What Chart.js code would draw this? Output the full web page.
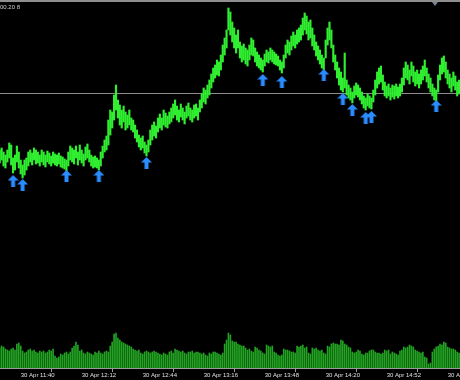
<!DOCTYPE html>
<html>
<head>
<meta charset="utf-8">
<script src="https://cdn.jsdelivr.net/npm/chart.js@4.4.1/dist/chart.umd.min.js"></script>
<style>
    html, body { margin: 0; padding: 0; background: #000; }
    #wrap { width: 460px; height: 380px; }
</style>
</head>
<body>
<div id="wrap"><canvas id="priceChart" width="460" height="380"></canvas></div>
<script>
// 1 minute bars, bar 0 = 30 Apr 11:29
const barHighs = [
    50, 52, 48, 45, 50, 57, 55, 42, 45, 54,
    48, 40, 35, 40, 42, 48, 50, 47, 52, 50,
    48, 45, 50, 48, 45, 49, 47, 44, 48, 46,
    45, 47, 44, 43, 41, 40, 48, 54, 52, 50,
    54, 48, 55, 50, 46, 53, 56, 50, 45, 43,
    44, 42, 40, 48, 54, 60, 64, 80, 90, 88,
    105, 115, 100, 95, 90, 94, 88, 85, 90, 82,
    80, 75, 70, 65, 62, 64, 58, 55, 60, 70,
    75, 78, 74, 82, 86, 82, 90, 87, 84, 88,
    92, 96, 100, 94, 90, 96, 92, 88, 94, 97,
    92, 90, 95, 96, 92, 100, 106, 112, 110, 115,
    120, 126, 132, 135, 140, 138, 145, 155, 162, 170,
    192, 188, 178, 172, 165, 170, 158, 154, 156, 152,
    150, 155, 162, 160, 152, 148, 145, 142, 140, 146,
    150, 148, 152, 150, 148, 146, 144, 140, 138, 145,
    155, 160, 158, 164, 168, 165, 170, 172, 175, 182,
    187, 184, 178, 180, 172, 165, 158, 154, 150, 145,
    142, 160, 172, 178, 170, 155, 145, 138, 132, 128,
    122, 147, 120, 115, 112, 108, 114, 117, 115, 112,
    108, 104, 102, 106, 104, 102, 110, 120, 128, 132,
    134, 125, 118, 114, 116, 112, 115, 114, 116, 113,
    116, 122, 132, 138, 135, 130, 138, 134, 128, 130,
    126, 130, 134, 140, 132, 126, 122, 116, 112, 110,
    125, 135, 142, 144, 138, 130, 126, 122, 128, 124,
    118, 120
];
const barLows = [
    37, 40, 34, 32, 38, 42, 35, 27, 30, 38,
    32, 26, 22, 25, 30, 34, 38, 35, 40, 36,
    37, 34, 38, 35, 33, 38, 36, 34, 37, 35,
    34, 36, 33, 32, 31, 29, 34, 40, 38, 36,
    42, 35, 40, 37, 34, 40, 42, 38, 34, 32,
    33, 32, 30, 34, 42, 48, 50, 55, 65, 72,
    80, 90, 82, 75, 72, 78, 70, 72, 75, 70,
    68, 62, 58, 53, 50, 52, 47, 44, 48, 55,
    60, 64, 62, 68, 72, 70, 75, 73, 72, 76,
    78, 82, 85, 80, 78, 83, 80, 76, 82, 84,
    80, 78, 82, 84, 80, 88, 92, 98, 96, 102,
    105, 112, 118, 122, 125, 124, 130, 138, 145, 152,
    170, 165, 158, 152, 147, 152, 142, 138, 140, 136,
    134, 140, 145, 144, 138, 134, 132, 130, 128, 134,
    138, 137, 140, 138, 136, 135, 134, 130, 127, 132,
    142, 147, 145, 150, 154, 152, 156, 158, 160, 165,
    170, 166, 160, 162, 154, 150, 144, 140, 136, 132,
    130, 142, 155, 160, 152, 138, 130, 122, 115, 110,
    108, 112, 105, 102, 100, 97, 102, 105, 103, 100,
    96, 92, 90, 94, 92, 91, 98, 105, 112, 116,
    118, 110, 104, 102, 104, 100, 103, 101, 104, 102,
    104, 108, 115, 122, 120, 116, 124, 118, 114, 116,
    112, 116, 120, 124, 118, 112, 108, 104, 100, 99,
    108, 120, 126, 128, 122, 116, 112, 108, 114, 110,
    104, 106
];
const tickVolumes = [
    20, 22, 21, 19, 18, 17, 19, 20, 18, 24,
    25, 22, 17, 15, 16, 18, 19, 17, 18, 16,
    15, 17, 16, 17, 15, 16, 18, 17, 19, 12,
    10, 11, 14, 13, 15, 16, 14, 16, 20, 22,
    26, 23, 17, 18, 15, 14, 16, 15, 14, 13,
    16, 15, 17, 15, 14, 16, 17, 16, 22, 26,
    34, 35, 30, 28, 26, 25, 24, 23, 22, 21,
    19, 18, 17, 18, 15, 14, 16, 17, 16, 15,
    16, 17, 16, 15, 14, 13, 15, 14, 13, 16,
    17, 15, 19, 18, 17, 16, 17, 15, 14, 16,
    16, 17, 15, 16, 16, 15, 14, 15, 13, 12,
    15, 14, 16, 16, 15, 14, 13, 15, 24, 28,
    35, 33, 27, 26, 26, 24, 23, 22, 22, 20,
    18, 19, 17, 16, 21, 20, 18, 17, 15, 14,
    23, 22, 21, 22, 16, 15, 13, 12, 13, 19,
    18, 18, 17, 16, 16, 15, 22, 21, 22, 23,
    20, 21, 15, 14, 20, 19, 20, 18, 17, 18,
    15, 14, 22, 21, 24, 25, 24, 24, 23, 28,
    27, 24, 23, 21, 20, 16, 15, 16, 18, 17,
    14, 13, 15, 15, 17, 18, 18, 16, 15, 15,
    14, 15, 18, 17, 18, 14, 16, 15, 14, 13,
    17, 18, 21, 20, 21, 23, 22, 21, 18, 17,
    16, 15, 16, 11, 10, 4, 5, 16, 19, 21,
    22, 24, 23, 26, 25, 21, 20, 19, 19, 18,
    16, 15
];

// blue "buy" arrows under the lows
const arrowBars = [7, 12, 35, 52, 77, 138, 148, 170, 180, 185, 192, 195, 229];
const arrowPrices = [19, 15, 24, 24, 37, 120, 118, 125, 101, 90, 82, 83, 94];

const bidPrice = 107;
const tickBars = [11, 43, 75, 107, 139, 171, 203, 235];
const tickLabels = ['30 Apr 11:40', '30 Apr 12:12', '30 Apr 12:44', '30 Apr 13:16',
    '30 Apr 13:48', '30 Apr 14:20', '30 Apr 14:52', '30 Apr 15:24'];

// arrow icon
const arrowImg = document.createElement('canvas');
arrowImg.width = 11;
arrowImg.height = 12;
const a = arrowImg.getContext('2d');
a.fillStyle = '#2a8cff';
a.beginPath();
a.moveTo(5.5, 0);
a.lineTo(11, 5.5);
a.lineTo(7.5, 5.5);
a.lineTo(7.5, 12);
a.lineTo(3.5, 12);
a.lineTo(3.5, 5.5);
a.lineTo(0, 5.5);
a.closePath();
a.fill();

const terminalDecor = {
    id: 'terminalDecor',
    beforeDatasetsDraw(chart) {
        const c = chart.ctx;
        const y = Math.round(chart.scales.y.getPixelForValue(bidPrice)) + 0.5;
        c.save();
        c.strokeStyle = '#8c8c8c';
        c.lineWidth = 1;
        c.beginPath();
        c.moveTo(0, y);
        c.lineTo(chart.width, y);
        c.stroke();
        c.restore();
    },
    afterDraw(chart) {
        const c = chart.ctx;
        c.save();
        c.fillStyle = '#8f8f8f';
        c.fillRect(0, 0, chart.width, 2);
        c.fillStyle = '#7c8290';
        c.beginPath();
        c.moveTo(432, 2);
        c.lineTo(438, 2);
        c.lineTo(435, 6);
        c.closePath();
        c.fill();
        c.fillStyle = '#cfcfcf';
        c.font = '6px "Liberation Sans"';
        c.textBaseline = 'middle';
        c.fillText('00.20 8', 0, 7);
        c.restore();
    }
};

const ctx = document.getElementById('priceChart').getContext('2d');
const myChart = new Chart(ctx, {
    type: 'bar',
    data: {
        datasets: [{
            label: 'Price',
            data: barHighs.map((h, i) => ({ x: i, y: [barLows[i], h] })),
            backgroundColor: '#30ee30',
            barThickness: 1.5,
            grouped: false,
            yAxisID: 'y',
            order: 2
        }, {
            label: 'Volume',
            data: tickVolumes.map((v, i) => ({ x: i, y: v })),
            backgroundColor: '#22a322',
            barThickness: 1,
            grouped: false,
            yAxisID: 'yv',
            order: 3
        }, {
            type: 'scatter',
            label: 'Signals',
            data: arrowBars.map((b, i) => ({ x: b, y: arrowPrices[i] })),
            pointStyle: arrowImg,
            pointRadius: 6,
            yAxisID: 'y',
            order: 1
        }]
    },
    options: {
        responsive: false,
        animation: false,
        layout: { padding: 0, autoPadding: false },
        plugins: { legend: { display: false }, tooltip: { enabled: false } },
        scales: {
            x: {
                type: 'linear',
                min: 0.14,
                max: 241.48,
                offset: false,
                grid: { drawOnChartArea: false, drawTicks: true, tickLength: 4, color: '#9a9a9a' },
                border: { display: true, color: '#9a9a9a', width: 1 },
                ticks: {
                    color: '#e0e0e0',
                    font: { size: 6, family: 'Liberation Sans' },
                    align: 'start',
                    padding: 0,
                    maxRotation: 0,
                    autoSkip: false,
                    callback: (v) => tickLabels[tickBars.indexOf(v)]
                },
                afterBuildTicks: (s) => { s.ticks = tickBars.map(v => ({ value: v })); },
                afterFit: (s) => { s.height = 12; s.paddingLeft = 0; s.paddingRight = 0; }
            },
            y: { display: false, min: -168, max: 200 },
            yv: { display: false, min: 0, max: 368 }
        }
    },
    plugins: [terminalDecor]
});
</script>
</body>
</html>
